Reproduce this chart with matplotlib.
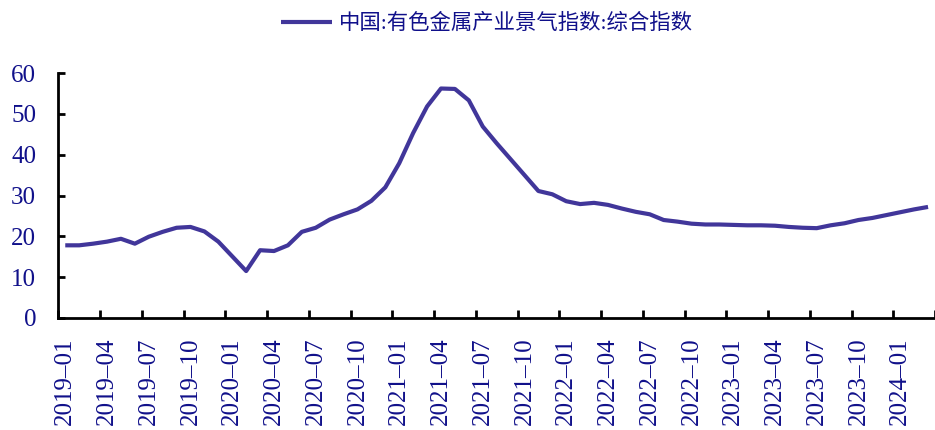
import matplotlib
matplotlib.use("Agg")
import matplotlib.pyplot as plt
import numpy as np
import pandas as pd

plt.rcParams['font.family'] = ['Liberation Serif', 'Noto Sans CJK SC', 'DejaVu Sans']

series_name = "中国:有色金属产业景气指数:综合指数"
months = pd.period_range("2019-01", "2024-03", freq="M").strftime("%Y–%m").tolist()
values = [
    17.8, 17.8, 18.2, 18.7, 19.4, 18.2, 19.9, 21.1, 22.1, 22.3,
    21.2, 18.7, 15.1, 11.5, 16.6, 16.4, 17.8, 21.1, 22.1, 24.1,
    25.4, 26.6, 28.7, 32.0, 37.9, 45.3, 51.8, 56.2, 56.1, 53.3,
    46.9, 42.8, 38.9, 35.0, 31.1, 30.3, 28.6, 27.9, 28.2, 27.7,
    26.8, 26.0, 25.4, 24.0, 23.6, 23.1, 22.9, 22.9, 22.8, 22.7,
    22.7, 22.6, 22.3, 22.1, 22.0, 22.7, 23.2, 24.0, 24.5, 25.2,
    25.9, 26.6, 27.2,
]
yticks = [0, 10, 20, 30, 40, 50, 60]

line_color = "#41369a"
text_color = "#10108a"

fig = plt.figure(figsize=(9.35, 4.3), dpi=100)
W, H = 935, 430
left_px, right_px, top_px, bottom_px = 58.3, 935, 73, 318
ax = fig.add_axes([left_px / W, 1 - bottom_px / H,
                   (right_px - left_px) / W, (bottom_px - top_px) / H])

x = np.arange(len(values))
ax.plot(x, values, color=line_color, lw=3.0, label=series_name,
        solid_joinstyle='round', solid_capstyle='butt')

ax.set_ylim(0, 60)
ax.set_xlim(-0.5, 62.08)

ax.set_yticks(yticks)
ax.set_yticklabels([str(v) for v in yticks])
label_idx = list(range(0, len(months), 3))
ax.set_xticks(label_idx)
ax.set_xticklabels([months[i] for i in label_idx], rotation=90)
ax.set_xticks([i - 0.5 for i in label_idx] + [label_idx[-1] + 2.5], minor=True)

ax.tick_params(axis='x', which='major', length=0, pad=14, labelsize=18,
               labelcolor=text_color)
ax.tick_params(axis='x', which='minor', direction='in', length=6, width=2,
               color='black')
ax.tick_params(axis='y', which='major', direction='in', length=5, width=2,
               pad=16, labelsize=18, labelcolor=text_color, color='black')

for s in ['top', 'right']:
    ax.spines[s].set_visible(False)
for s in ['left', 'bottom']:
    ax.spines[s].set_linewidth(2)
    ax.spines[s].set_color('black')

handles, labels = ax.get_legend_handles_labels()
leg = fig.legend(handles, labels, loc='center', bbox_to_anchor=(487 / W, 1 - 24 / H),
                 frameon=False, fontsize=15.4, handlelength=2.4, handletextpad=0.3)
for t in leg.get_texts():
    t.set_color(text_color)

fig.savefig("out.png", dpi=100)
